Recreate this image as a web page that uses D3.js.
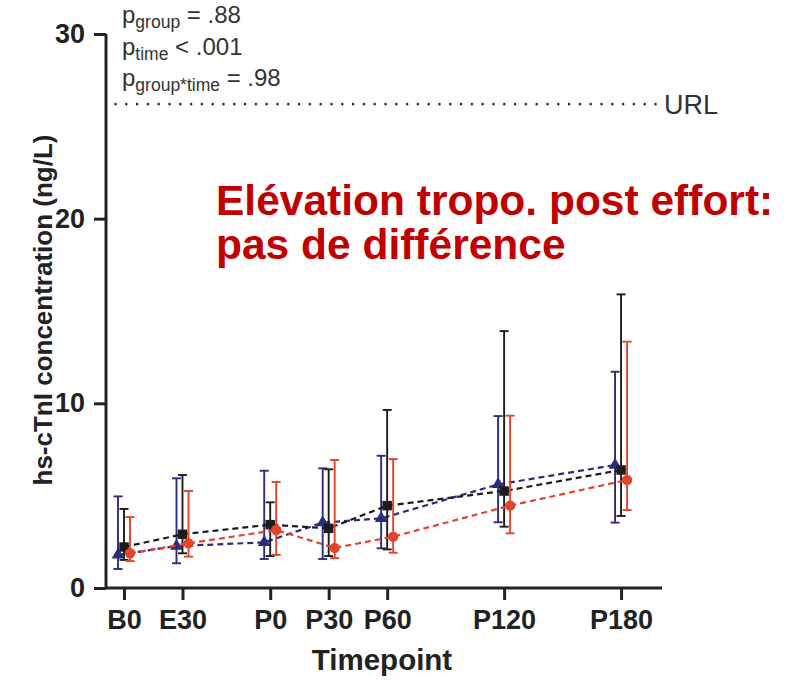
<!DOCTYPE html>
<html>
<head>
<meta charset="utf-8">
<script src="https://cdn.jsdelivr.net/npm/d3@7"></script>
<style>
  html, body { margin: 0; padding: 0; background: #fff; }
  svg { display: block; }
  text { font-family: "Liberation Sans", Arial, sans-serif; }
</style>
</head>
<body>
<svg id="chart" width="790" height="682"></svg>
<script>
// ---- data ----
const timepoints = ["B0", "E30", "P0", "P30", "P60", "P120", "P180"];
const timeMinutes = [0, 30, 75, 105, 135, 195, 255];
const yTicks = [0, 10, 20, 30];

// group 1 (navy, triangles)
const g1Mean = [1.79, 2.27, 2.47, 3.54, 3.77, 5.61, 6.66];
const g1Low  = [1.03, 1.34, 1.57, 1.57, 2.15, 3.56, 3.54];
const g1High = [4.96, 5.94, 6.35, 6.48, 7.16, 9.31, 11.71];
// group 2 (black, squares)
const g2Mean = [2.22, 2.91, 3.43, 3.23, 4.46, 5.25, 6.39];
const g2Low  = [1.52, 1.88, 1.73, 1.73, 2.09, 3.32, 3.90];
const g2High = [4.28, 6.12, 4.64, 6.43, 9.64, 13.91, 15.90];
// group 3 (red, circles)
const g3Mean = [1.88, 2.42, 3.14, 2.17, 2.78, 4.46, 5.85];
const g3Low  = [1.46, 1.70, 1.79, 1.62, 1.91, 2.96, 4.22];
const g3High = [3.84, 5.25, 5.74, 6.93, 6.98, 9.33, 13.34];

const urlValue = 26.2;
const pLines = [
  { sub: "group", op: "= .88" },
  { sub: "time", op: "< .001" },
  { sub: "group*time", op: "= .98" }
];
const annotation = ["Elévation tropo. post effort:", "pas de différence"];

// ---- layout ----
const svg = d3.select("#chart");
const x = d3.scaleLinear().domain([-9.24, 276]).range([106, 662]);
const y = d3.scaleLinear().domain([0, 30]).range([588, 34]);

const series = [
  { mean: g1Mean, low: g1Low, high: g1High, color: "#2b2c7e", shape: d3.symbolTriangle, size: 70, dx: -6 },
  { mean: g2Mean, low: g2Low, high: g2High, color: "#1c1c1c", shape: d3.symbolSquare, size: 90, dx: 0 },
  { mean: g3Mean, low: g3Low, high: g3High, color: "#e2442c", shape: d3.symbolCircle, size: 85, dx: 6 }
];

// URL dotted line
svg.append("line")
  .attr("x1", 115.5).attr("x2", 656)
  .attr("y1", y(urlValue)).attr("y2", y(urlValue))
  .attr("stroke", "#333").attr("stroke-width", 2.6)
  .attr("stroke-linecap", "round")
  .attr("stroke-dasharray", "0,10.8");
svg.append("text")
  .attr("x", 664).attr("y", y(urlValue) + 10)
  .attr("font-size", 27).attr("fill", "#333")
  .text("URL");

// p-value lines
const pBase = [23, 54.5, 86];
pLines.forEach((d, i) => {
  const t = svg.append("text").attr("x", 122).attr("y", pBase[i])
    .attr("font-size", 24).attr("fill", "#333");
  t.append("tspan").text("p");
  t.append("tspan").attr("font-size", 17.5).attr("dy", 5).text(d.sub);
  t.append("tspan").attr("dy", -5).text(" " + d.op);
});

// axes
const yAxis = d3.axisLeft(y).tickValues(yTicks).tickSize(12).tickPadding(9).tickFormat(d3.format("d"));
const gy = svg.append("g").attr("transform", "translate(106,0)").call(yAxis);
const xAxis = d3.axisBottom(x).tickValues(timeMinutes).tickSize(12).tickPadding(10)
  .tickFormat((d, i) => timepoints[i]);
const gx = svg.append("g").attr("transform", "translate(0,588)").call(xAxis);
[gx, gy].forEach(g => {
  g.select(".domain").attr("stroke", "#222").attr("stroke-width", 3);
  g.selectAll(".tick line").attr("stroke", "#222").attr("stroke-width", 3);
  g.selectAll(".tick text").attr("fill", "#222").attr("font-size", 27)
    .attr("font-weight", "bold").attr("font-family", "Liberation Sans, Arial, sans-serif");
});
gx.select(".domain").attr("d", `M${x.range()[0]},0H${x.range()[1]}`);
gy.select(".domain").attr("d", `M0,${y.range()[0]}V${y.range()[1]}`);

// axis titles
svg.append("text")
  .attr("x", 382).attr("y", 670)
  .attr("text-anchor", "middle").attr("font-size", 29.5).attr("font-weight", "bold")
  .attr("fill", "#222").text("Timepoint");
svg.append("text")
  .attr("transform", "translate(52,310) rotate(-90)")
  .attr("text-anchor", "middle").attr("font-size", 26).attr("font-weight", "bold")
  .attr("fill", "#222").text("hs-cTnI concentration (ng/L)");

// series: dashed lines, error bars, markers
const cap = 4.5;
series.forEach(s => {
  const pts = timeMinutes.map((t, i) => ({ px: x(t) + s.dx, m: s.mean[i], lo: s.low[i], hi: s.high[i] }));
  svg.append("path")
    .attr("d", d3.line().x(d => d.px).y(d => y(d.m))(pts))
    .attr("fill", "none").attr("stroke", s.color).attr("stroke-width", 2.2)
    .attr("stroke-dasharray", "6,4");
  const eb = svg.append("g").attr("stroke", s.color).attr("stroke-width", 1.9).attr("fill", "none");
  pts.forEach(d => {
    eb.append("line").attr("x1", d.px).attr("x2", d.px).attr("y1", y(d.lo)).attr("y2", y(d.hi));
    eb.append("line").attr("x1", d.px - cap).attr("x2", d.px + cap).attr("y1", y(d.hi)).attr("y2", y(d.hi));
    eb.append("line").attr("x1", d.px - cap).attr("x2", d.px + cap).attr("y1", y(d.lo)).attr("y2", y(d.lo));
  });
  svg.append("g").selectAll("path").data(pts).join("path")
    .attr("transform", d => `translate(${d.px},${y(d.m)})`)
    .attr("d", d3.symbol().type(s.shape).size(s.size))
    .attr("fill", s.color);
});

// annotation
const ann = svg.append("text").attr("x", 216).attr("y", 215)
  .attr("font-size", 42.5).attr("font-weight", "bold").attr("fill", "#c00000");
annotation.forEach((line, i) => {
  ann.append("tspan").attr("x", 216).attr("y", 215 + i * 44).text(line);
});
</script>
</body>
</html>
